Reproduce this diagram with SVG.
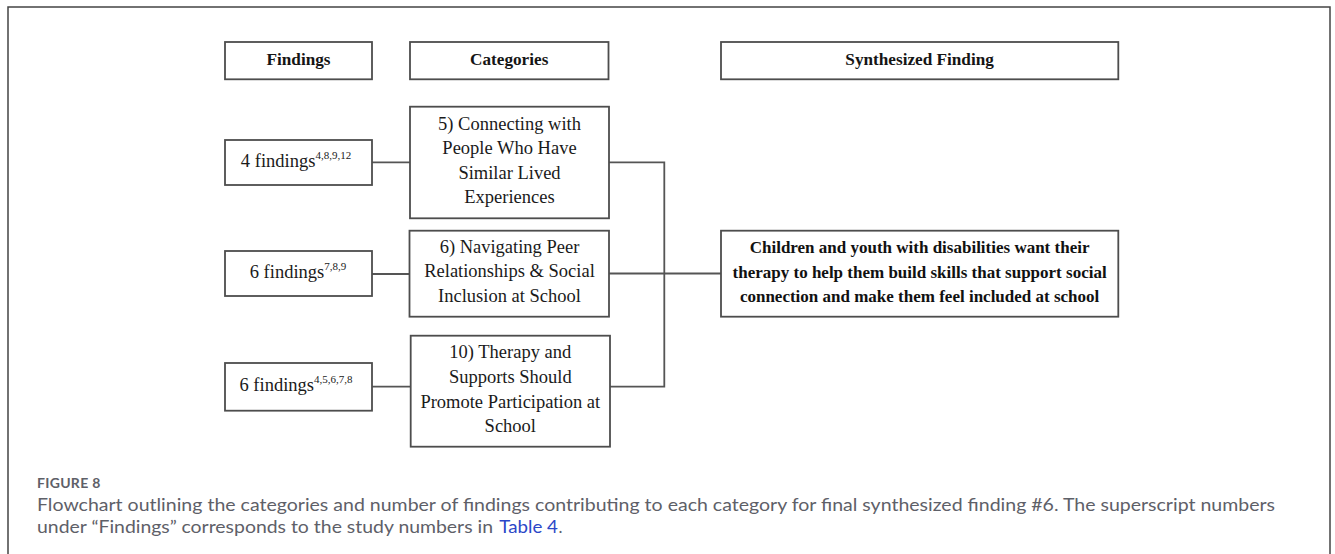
<svg xmlns="http://www.w3.org/2000/svg" width="1335" height="554" viewBox="0 0 1335 554">
<style>
.box{fill:#fff;stroke:#4d4d4d;stroke-width:1.8}
.hdr{font-family:"Liberation Serif","Times New Roman",serif;font-weight:bold;font-size:17.2px;fill:#151515;text-anchor:middle}
.t{font-family:"Liberation Serif","Times New Roman",serif;font-size:18.5px;fill:#1a1a1a;text-anchor:middle}
.tb{font-family:"Liberation Serif","Times New Roman",serif;font-weight:bold;font-size:17px;fill:#111;text-anchor:middle}
.sup{font-size:11px}
.conn{fill:none;stroke:#555;stroke-width:1.8}
.cap{font-family:Lato,"Open Sans",sans-serif;fill:#5e6068}
</style>
<rect x="0" y="0" width="1335" height="554" fill="#fff"/>
<rect x="8" y="7" width="1322" height="560" fill="none" stroke="#444" stroke-width="1.5"/>

<g id="connectors">
<line class="conn" x1="372" y1="162.3" x2="410" y2="162.3"/>
<line class="conn" x1="372" y1="274" x2="409" y2="274"/>
<line class="conn" x1="372" y1="386.7" x2="410.7" y2="386.7"/>
<polyline class="conn" points="609,162.3 664.3,162.3 664.3,386.7 610,386.7"/>
<line class="conn" x1="609" y1="273.5" x2="721" y2="273.5"/>
</g>

<g id="hdr-findings">
<rect class="box" x="225" y="42" width="147" height="37.3"/>
<text class="hdr" x="298.5" y="64.5">Findings</text>
</g>
<g id="hdr-categories">
<rect class="box" x="410" y="42" width="198.5" height="37.3"/>
<text class="hdr" x="509.2" y="64.5">Categories</text>
</g>
<g id="hdr-synth">
<rect class="box" x="721" y="42" width="397.3" height="37.3"/>
<text class="hdr" x="919.6" y="64.5">Synthesized Finding</text>
</g>

<g id="findings-1">
<rect class="box" x="225" y="140" width="147" height="45"/>
<text class="t" x="296" y="166.5">4 findings<tspan class="sup" dy="-8">4,8,9,12</tspan></text>
</g>
<g id="findings-2">
<rect class="box" x="225" y="251" width="147" height="45"/>
<text class="t" x="298" y="278">6 findings<tspan class="sup" dy="-8">7,8,9</tspan></text>
</g>
<g id="findings-3">
<rect class="box" x="225" y="363" width="147" height="47.7"/>
<text class="t" x="296" y="391">6 findings<tspan class="sup" dy="-8">4,5,6,7,8</tspan></text>
</g>

<g id="cat-5">
<rect class="box" x="410" y="106.7" width="199" height="111.6"/>
<text class="t" x="509.5" y="129.5">5) Connecting with</text>
<text class="t" x="509.5" y="154.3">People Who Have</text>
<text class="t" x="509.5" y="178.8">Similar Lived</text>
<text class="t" x="509.5" y="203.3">Experiences</text>
</g>
<g id="cat-6">
<rect class="box" x="409.5" y="230.7" width="199.5" height="86"/>
<text class="t" x="509.5" y="252.7">6) Navigating Peer</text>
<text class="t" x="509.5" y="276.9">Relationships &amp; Social</text>
<text class="t" x="509.5" y="301.7">Inclusion at School</text>
</g>
<g id="cat-10">
<rect class="box" x="410.7" y="335.7" width="199.3" height="111"/>
<text class="t" x="510.3" y="358.3">10) Therapy and</text>
<text class="t" x="510.3" y="383.3">Supports Should</text>
<text class="t" x="510.3" y="407.7">Promote Participation at</text>
<text class="t" x="510.3" y="432">School</text>
</g>

<g id="synth">
<rect class="box" x="721" y="230.7" width="397.3" height="86"/>
<text class="tb" x="919.6" y="253.3">Children and youth with disabilities want their</text>
<text class="tb" x="919.6" y="278.3">therapy to help them build skills that support social</text>
<text class="tb" x="919.6" y="302.3">connection and make them feel included at school</text>
</g>

<g id="caption">
<text class="cap" x="37" y="488" font-size="14" font-weight="bold" letter-spacing="0.3">FIGURE 8</text>
<text class="cap" x="37" y="511" font-size="17" textLength="1238" lengthAdjust="spacingAndGlyphs">Flowchart outlining the categories and number of findings contributing to each category for final synthesized finding #6. The superscript numbers</text>
<text class="cap" x="37" y="533" font-size="17" textLength="456" lengthAdjust="spacingAndGlyphs">under “Findings” corresponds to the study numbers in</text>
<text x="499.3" y="533" font-family="Lato,'Open Sans',sans-serif" font-size="17" fill="#2b47c8" textLength="58.7" lengthAdjust="spacingAndGlyphs">Table 4</text>
<text class="cap" x="558.5" y="533" font-size="17">.</text>
</g>
</svg>
